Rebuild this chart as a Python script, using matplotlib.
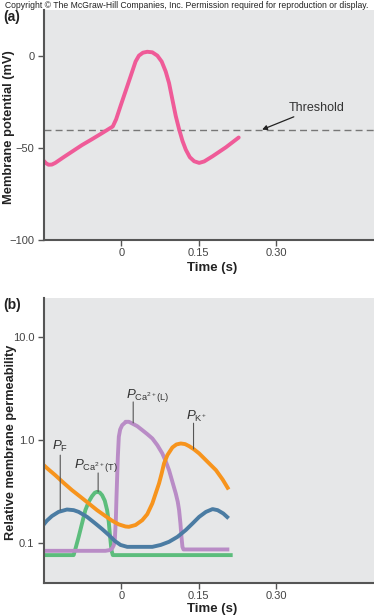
import matplotlib.pyplot as plt
import numpy as np

plt.rcParams['font.family'] = ['Liberation Sans', 'DejaVu Sans']
plt.rcParams['mathtext.fontset'] = 'custom'
plt.rcParams['mathtext.rm'] = 'Liberation Sans'
plt.rcParams['mathtext.it'] = 'Liberation Sans:italic'

# (a) membrane potential
t_vm = [-0.1510, -0.1464, -0.1412, -0.1347, -0.1282, -0.1120, -0.0958, -0.0763, -0.0568, -0.0373,
        -0.0166, -0.0101, -0.0016, 0.0081, 0.0179, 0.0276, 0.0341, 0.0419, 0.0503, 0.0601,
        0.0698, 0.0782, 0.0860, 0.0925, 0.0990, 0.1055, 0.1120, 0.1185, 0.1250, 0.1328,
        0.1412, 0.1510, 0.1607, 0.1769, 0.2029, 0.2276]
vm = [-56.8, -58.2, -59.1, -59.0, -58.1, -55.0, -52.0, -48.4, -45.2, -41.9,
      -38.3, -34.4, -27.2, -19.2, -11.1, -3.0, 0.2, 1.8, 2.3, 2.0,
      0.2, -3.0, -8.4, -14.7, -23.7, -32.6, -39.8, -46.1, -50.9, -55.0,
      -57.2, -58.1, -57.3, -54.5, -49.6, -44.3]
threshold = -40

# (b) relative permeabilities
t_k = [-0.1542, -0.1412, -0.1282, -0.1120, -0.0958, -0.0795, -0.0633, -0.0471, -0.0308, -0.0179,
       -0.0049, 0.0081, 0.0146, 0.0276, 0.0406, 0.0503, 0.0601, 0.0666, 0.0731, 0.0782,
       0.0828, 0.0893, 0.0990, 0.1068, 0.1153, 0.1237, 0.1315, 0.1412, 0.1510, 0.1672,
       0.1835, 0.1964, 0.2081]
p_k = [0.594, 0.519, 0.457, 0.385, 0.327, 0.282, 0.243, 0.209, 0.183, 0.165,
       0.152, 0.145, 0.144, 0.150, 0.167, 0.191, 0.243, 0.304, 0.380, 0.475,
       0.594, 0.715, 0.849, 0.908, 0.928, 0.915, 0.874, 0.812, 0.742, 0.616,
       0.511, 0.415, 0.332]

t_f = [-0.1542, -0.1445, -0.1347, -0.1218, -0.1055, -0.0925, -0.0828, -0.0666, -0.0503, -0.0373,
       -0.0244, -0.0127, -0.0016, 0.0114, 0.0276, 0.0601, 0.0763, 0.0925, 0.1088, 0.1250,
       0.1380, 0.1510, 0.1640, 0.1769, 0.1867, 0.1977, 0.2081]
p_f = [0.144, 0.165, 0.183, 0.201, 0.212, 0.209, 0.201, 0.180, 0.155, 0.137,
       0.120, 0.105, 0.096, 0.092, 0.092, 0.092, 0.096, 0.103, 0.115, 0.134,
       0.155, 0.180, 0.201, 0.214, 0.209, 0.194, 0.174]

t_cat = [-0.1542, -0.0925, -0.0880, -0.0828, -0.0763, -0.0698, -0.0633, -0.0568, -0.0516, -0.0471,
         -0.0419, -0.0373, -0.0321, -0.0276, -0.0244, -0.0218, -0.0192, -0.0166, 0.2159]
p_cat = [0.0765, 0.0765, 0.092, 0.115, 0.155, 0.209, 0.252, 0.286, 0.308, 0.315,
         0.310, 0.292, 0.258, 0.209, 0.161, 0.115, 0.0855, 0.0765, 0.0765]

t_cal = [-0.1542, -0.0308, -0.0231, -0.0179, -0.0146, -0.0127, -0.0107, -0.0094, -0.0081, -0.0068,
         -0.0049, -0.0023, 0.0016, 0.0068, 0.0081, 0.0146, 0.0211, 0.0308, 0.0406, 0.0503,
         0.0601, 0.0698, 0.0795, 0.0860, 0.0925, 0.0990, 0.1055, 0.1094, 0.1120, 0.1146,
         0.1166, 0.1185, 0.1205, 0.2094]
p_cal = [0.0842, 0.0842, 0.0855, 0.0887, 0.0956, 0.107, 0.167, 0.282, 0.441, 0.689,
         1.077, 1.269, 1.398, 1.473, 1.507, 1.507, 1.451, 1.367, 1.251, 1.144,
         1.038, 0.894, 0.742, 0.625, 0.511, 0.394, 0.304, 0.252, 0.209, 0.155,
         0.115, 0.092, 0.0868, 0.0868]

xticks = [0, 0.15, 0.30]
xtick_labels = ['0', '0.15', '0.30']

bg = '#e6e7e8'
spine_c = '#555555'

fig = plt.figure(figsize=(3.74, 6.16), dpi=100)


def style(ax):
    ax.set_facecolor(bg)
    for s in ['top', 'right']:
        ax.spines[s].set_visible(False)
    for s in ['left', 'bottom']:
        ax.spines[s].set_color(spine_c)
        ax.spines[s].set_linewidth(1.5)
    ax.tick_params(axis='both', which='major', direction='out', length=4, width=1,
                   color=spine_c, labelcolor='#444444', labelsize=8, pad=3)
    ax.tick_params(axis='x', pad=2)
    ax.tick_params(axis='both', which='minor', length=0)
    ax.set_xlim(-0.15, 0.49)
    ax.set_xticks(xticks)
    ax.set_xticklabels(xtick_labels)


# panel (a)
ax1 = fig.add_axes([44 / 374, 1 - 240 / 616, 1 - 44 / 374, 230 / 616])
style(ax1)
ax1.set_ylim(-100, 25)
ax1.set_yticks([0, -50, -100])
ax1.axhline(threshold, color='#777777', lw=1, ls=(0, (5, 3)))
ax1.plot(t_vm, vm, color='#ef5b98', lw=2.8, solid_capstyle='round', solid_joinstyle='round')
ax1.annotate('Threshold', xy=(0.273, threshold), xytext=(0.325, -28),
             ha='left', va='center', fontsize=9, color='#333333',
             arrowprops=dict(arrowstyle='-|>', color='#222222', lw=0.9,
                             mutation_scale=7, shrinkA=1, shrinkB=0))

# panel (b)
ax2 = fig.add_axes([44 / 374, 1 - 583 / 616, 1 - 44 / 374, 285 / 616])
style(ax2)
ax2.set_yscale('log')
ax2.set_ylim(0.041, 24)
ax2.set_yticks([0.1, 1, 10])
ax2.set_yticklabels(['0.1', '1.0', '10.0'])
ax2.minorticks_off()

kw = dict(lw=2.8, solid_capstyle='butt', solid_joinstyle='round')
ax2.plot(t_cat, p_cat, color='#5cbd7c', **kw)
ax2.plot(t_cal, p_cal, color='#b98cc6', **kw)
ax2.plot(t_f, p_f, color='#4b7ca3', **kw)
ax2.plot(t_k, p_k, color='#f7941d', **kw)

labels = [
    (r'$P_{\mathrm{F}}$', -0.1354, 0.80, (-0.1185, 0.715), (-0.1185, 0.21)),
    (r'$P_{\mathrm{Ca}^{2+}\mathrm{(T)}}$', -0.0925, 0.535, (-0.045, 0.48), (-0.045, 0.315)),
    (r'$P_{\mathrm{Ca}^{2+}\mathrm{(L)}}$', 0.0088, 2.56, (0.023, 2.35), (0.023, 1.47)),
    (r'$P_{\mathrm{K}^{+}}$', 0.1257, 1.56, (0.140, 1.46), (0.140, 0.82)),
]
for txt, tx, ty, top, bot in labels:
    ax2.text(tx, ty, txt, fontsize=9.5, color='#333333', ha='left', va='baseline')
    ax2.annotate('', xy=bot, xytext=top,
                 arrowprops=dict(arrowstyle='-', color='#555555', lw=0.8,
                                 shrinkA=0, shrinkB=0))

# axis titles and panel letters
fig.text(212 / 374, 1 - 268 / 616, 'Time (s)', ha='center', va='center',
         fontsize=9.5, fontweight='bold', color='#222222')
fig.text(212 / 374, 1 - 609 / 616, 'Time (s)', ha='center', va='center',
         fontsize=9.5, fontweight='bold', color='#222222')
fig.text(9 / 374, 1 - 127 / 616, 'Membrane potential (mV)', rotation=90,
         ha='center', va='center', fontsize=9.3, fontweight='bold', color='#222222')
fig.text(11 / 374, 1 - 442 / 616, 'Relative membrane permeability', rotation=90,
         ha='center', va='center', fontsize=9.2, fontweight='bold', color='#222222')
fig.text(3 / 374, 1 - 17 / 616, '(a)', ha='left', va='center',
         fontsize=10, fontweight='bold', color='#222222')
fig.text(3 / 374, 1 - 305 / 616, '(b)', ha='left', va='center',
         fontsize=10, fontweight='bold', color='#222222')
fig.text(0.5, 1 - 5 / 616,
         'Copyright \u00a9 The McGraw-Hill Companies, Inc. Permission required for reproduction or display.',
         ha='center', va='center', fontsize=6.25, color='#222222')

fig.savefig('out.png', dpi=100)
